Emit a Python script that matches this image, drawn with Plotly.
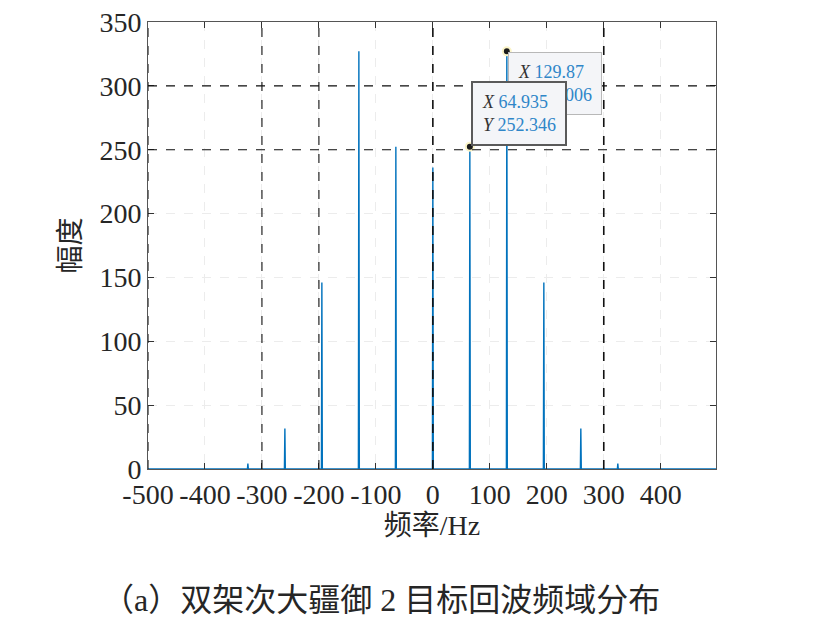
import plotly.graph_objects as go

# spectrum peaks (Hz) and their amplitudes
peak_freq = [-324.675, -259.74, -194.805, -129.87, -64.935, 0.0,
             64.935, 129.87, 194.805, 259.74, 324.675]
peak_amp = [4.2, 31.8, 146.0, 327.006, 252.346, 236.0,
            252.346, 327.006, 146.0, 31.8, 4.2]

# data tips shown on the chart
tip_x = [129.87, 64.935]
tip_y = [327.006, 252.346]

x_ticks = [-500, -400, -300, -200, -100, 0, 100, 200, 300, 400]
x_tick_text = ["-500", "-400", "-300", "-200", "-100", "0", "100", "200", "300", "400"]
y_ticks = [0, 50, 100, 150, 200, 250, 300, 350]

# dashed black guide lines
guide_x = [-500, -300, -200, 0, 300]
guide_y = [250, 300]

f_min, f_max = -500, 497

# build the spectrum as narrow spikes on a zero baseline
spec_x = [f_min]
spec_y = [0]
for f, a in zip(peak_freq, peak_amp):
    spec_x += [f - 0.8, f, f + 0.8]
    spec_y += [0, a, 0]
spec_x.append(f_max)
spec_y.append(0)

SERIF = "Liberation Serif, 'Noto Sans CJK SC', serif"
TXT = "#262626"

fig = go.Figure()
fig.add_trace(go.Scatter(x=spec_x, y=spec_y, mode="lines",
                         line=dict(color="#0072BD", width=1.4),
                         hoverinfo="skip", showlegend=False))

# guide lines
for gx in guide_x:
    w = 1.6 if gx in (0, 300) else 1.1
    fig.add_shape(type="line", xref="x", yref="paper", x0=gx, x1=gx, y0=0, y1=1,
                  line=dict(color="#111111", width=w, dash="dash"), layer="above")
for gy in guide_y:
    fig.add_shape(type="line", xref="paper", yref="y", x0=0, x1=1, y0=gy, y1=gy,
                  line=dict(color="#111111", width=1.1, dash="dash"), layer="above")

# data tip markers
fig.add_trace(go.Scatter(x=tip_x, y=tip_y, mode="markers",
                         marker=dict(color="#1a1a1a", size=8,
                                     line=dict(color="#fbf4c8", width=2)),
                         hoverinfo="skip", showlegend=False, cliponaxis=False))

tip_style = [
    dict(border="#b8b8b8", bw=1, xs=1, ys=-1, yanchor="top"),
    dict(border="#5a5a5a", bw=2, xs=1, ys=1, yanchor="bottom"),
]
for tx, ty, st in zip(tip_x, tip_y, tip_style):
    fig.add_annotation(
        x=tx, y=ty, xref="x", yref="y", showarrow=False,
        xanchor="left", yanchor=st["yanchor"], xshift=st["xs"], yshift=st["ys"],
        align="left",
        text=(f"<i>X</i> <span style='color:#2f86c8'>{tx:g}</span><br>"
              f"<i>Y</i> <span style='color:#2f86c8'>{ty:.3f}</span>"),
        font=dict(family=SERIF, size=18, color="#333333"),
        bgcolor="#f4f5f8", bordercolor=st["border"], borderwidth=st["bw"],
        borderpad=9,
    )

# caption below the chart
fig.add_annotation(
    text="（a）双架次大疆御 2 目标回波频域分布",
    xref="paper", yref="paper", x=0.41, y=-0.293,
    xanchor="center", yanchor="middle", showarrow=False,
    font=dict(family=SERIF, size=32, color=TXT),
)

axis_common = dict(
    showline=True, linecolor="#555555", linewidth=1, mirror="ticks",
    ticks="inside", ticklen=6, tickcolor="#333333",
    showgrid=True, gridcolor="#ececec", griddash="dash", gridwidth=1,
    zeroline=False, ticklabeloverflow="allow", automargin=False,
    tickfont=dict(family=SERIF, size=28, color=TXT),
)

fig.update_xaxes(**axis_common, range=[f_min, f_max], tickmode="array",
                 tickvals=x_ticks, ticktext=x_tick_text, tickangle=0,
                 title=dict(text="频率/Hz", standoff=4,
                            font=dict(family=SERIF, size=28, color=TXT)))
fig.update_yaxes(**axis_common, range=[0, 350], tickmode="array",
                 tickvals=y_ticks,
                 title=dict(text="幅度", standoff=10,
                            font=dict(family=SERIF, size=28, color=TXT)))

fig.update_layout(
    width=798, height=618,
    margin=dict(l=140, r=90, t=14, b=157),
    plot_bgcolor="white", paper_bgcolor="white",
    showlegend=False,
)

fig.write_html("out.html")
